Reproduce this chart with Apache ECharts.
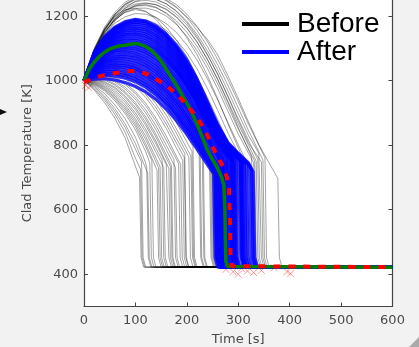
<!DOCTYPE html>
<html>
<head>
<meta charset="utf-8">
<script src="https://cdn.jsdelivr.net/npm/echarts@6/dist/echarts.min.js"></script>
<style>
html,body{margin:0;padding:0;background:#f2f2f2;}
#c{width:419px;height:347px;}
</style>
</head>
<body>
<div id="c"></div>
<script>
// ---- data ----
const timeGrid = [0,20,40,60,80,100,120,140,160,180,200,220,240,260,280,300,320,340,360,380];
const xTicks = [0,100,200,300,400,500,600];
const yTicks = [400,600,800,1000,1200];
const floorTemp = 422;

// "Before" runs: temperature at timeGrid points
const beforeVals = [
 [1000,970,932,884,822,735],
 [1000,974,940,896,840,760],
 [1000,978,946,905,855,788],
 [1000,982,952,914,866,805,728],
 [1000,985,960,925,882,825,745],
 [1000,988,968,938,898,848,780],
 [1000,990,972,944,905,858,795],
 [1000,992,975,948,912,866,805,730],
 [1000,994,979,953,918,874,818,748],
 [1000,996,982,958,925,882,828,760],
 [1000,998,986,964,933,892,840,778],
 [1000,1000,990,970,940,900,850,790],
 [1000,1002,994,976,948,910,862,804,740],
 [1000,1004,997,980,953,917,870,812,745],
 [1000,1006,1002,986,961,926,880,825,760],
 [1000,1008,1005,990,966,932,888,834,770],
 [1000,1010,1009,996,974,942,900,848,786],
 [1000,1012,1012,1000,980,950,910,860,800],
 [1000,1013,1015,1006,988,960,922,874,816,755],
 [1000,1015,1018,1010,993,966,930,884,828,765],
 [1000,1018,1024,1020,1006,982,948,905,852,790],
 [1000,1020,1027,1024,1012,990,958,916,865,806],
 [1000,1022,1030,1028,1018,998,968,928,878,820],
 [1000,1024,1033,1033,1025,1007,979,941,893,836,775],
 [1000,1025,1036,1037,1030,1014,988,952,906,850,790],
 [1000,1028,1040,1043,1037,1023,999,965,922,869,810],
 [1000,1030,1044,1048,1044,1032,1010,978,938,888,830],
 [1000,1032,1047,1052,1049,1038,1018,987,948,899,842,782],
 [1000,1034,1050,1056,1054,1044,1025,996,958,910,855,795],
 [1000,1036,1053,1060,1059,1050,1032,1005,968,921,866,806],
 [1000,1038,1056,1064,1064,1056,1040,1014,978,932,878,818],
 [1000,1040,1060,1069,1070,1063,1047,1022,986,941,887,826,765],
 [1000,1042,1064,1074,1076,1070,1055,1030,995,950,896,835,775],
 [1000,1045,1068,1080,1082,1077,1062,1038,1003,959,905,845,780],
 [1000,1048,1072,1085,1089,1084,1070,1046,1012,968,915,855,790],
 [1000,1052,1080,1096,1102,1099,1086,1064,1032,990,940,880,815],
 [1000,1058,1088,1106,1114,1112,1101,1080,1050,1010,960,900,835,775],
 [1000,1064,1098,1118,1127,1127,1117,1098,1070,1032,984,926,860,795],
 [1000,1070,1108,1132,1143,1145,1137,1120,1094,1058,1012,956,892,824],
 [1000,1075,1118,1145,1158,1162,1156,1140,1116,1082,1038,984,920,852,785],
 [1000,1080,1126,1156,1172,1178,1173,1159,1136,1104,1062,1010,948,880,810],
 [1000,1084,1134,1166,1184,1192,1189,1177,1156,1126,1086,1036,976,908,838,775],
 [1000,1088,1142,1178,1198,1208,1206,1196,1177,1149,1111,1064,1006,940,870,802],
 [1000,1092,1150,1188,1212,1224,1225,1217,1200,1174,1138,1093,1038,975,905,835,775],
 [1000,1088,1148,1190,1218,1234,1240,1236,1222,1198,1164,1120,1066,1003,932,855,785],
 [1000,1093,1153,1193,1218,1231,1233,1226,1210,1185,1150,1106,1052,990,920,850,788],
 [1000,1095,1156,1198,1224,1238,1241,1235,1220,1196,1162,1119,1066,1005,936,866,800],
 [1000,1097,1159,1202,1230,1245,1249,1244,1229,1206,1173,1131,1080,1020,952,882,815],
 [1000,1098,1162,1206,1235,1251,1256,1252,1238,1216,1184,1143,1093,1034,968,898,830,775],
 [1000,1085,1145,1192,1225,1246,1255,1252,1238,1214,1180,1136,1082,1020,950,876,806,760],
 [1000,1092,1156,1204,1236,1254,1262,1260,1248,1226,1195,1155,1106,1049,985,916,845,780],
 [1000,1100,1166,1212,1243,1261,1268,1266,1255,1235,1206,1168,1121,1066,1003,935,865,800],
 [1000,1090,1158,1206,1238,1256,1264,1262,1250,1228,1198,1165,1128,1080,1015,945,872,802,745],
 [1000,1095,1160,1200,1220,1225,1215,1190,1150,1098,1035,962,880,800],
 [1000,1090,1150,1190,1212,1220,1214,1196,1166,1125,1074,1012,942,866,795],
 [1000,1080,1140,1185,1215,1232,1236,1228,1208,1176,1133,1080,1016,944,866,792]
];
// time where each run drops to the floor, and the temperature where the drop starts
const beforeQuench = [108,110,112,124,122,128,132,142,145,148,155,152,162,165,168,170,178,175,184,188,192,195,196,204,208,210,212,224,226,230,232,244,246,248,250,252,262,270,278,290,298,308,318,330,326,332,335,338,342,345,348,352,377,270,292,312];
const beforeKnee = [700,725,748,713,730,745,752,722,730,733,731,754,734,728,734,738,730,755,743,740,753,762,774,763,766,780,795,770,777,776,782,753,757,754,757,776,769,762,763,751,747,750,741,745,764,751,750,755,770,748,754,761,697,760,752,748];

// "After" runs
const afterVals = [
 [1000,1005,1006,1002,994,982,965,942,912,876,834,788,740],
 [1000,1012,1016,1014,1008,997,980,956,925,888,845,798,748],
 [1000,1016,1022,1021,1016,1005,988,964,933,896,853,806,755],
 [1000,1020,1028,1028,1023,1013,996,973,942,905,862,814,763],
 [1000,1024,1034,1036,1032,1022,1006,983,952,915,872,824,772],
 [1000,1028,1040,1043,1040,1031,1015,992,962,925,882,834,782],
 [1000,1031,1045,1049,1046,1038,1022,1000,970,934,891,843,791],
 [1000,1035,1050,1055,1053,1045,1030,1008,979,943,900,852,800,752],
 [1000,1038,1056,1062,1061,1054,1040,1018,990,955,913,866,815,765],
 [1000,1042,1060,1068,1068,1062,1048,1027,998,962,920,872,820,768],
 [1000,1045,1065,1074,1075,1070,1056,1035,1007,971,930,882,830,777],
 [1000,1048,1070,1080,1082,1077,1064,1044,1016,981,940,892,840,786],
 [1000,1050,1075,1088,1090,1085,1072,1052,1025,990,950,903,852,798],
 [1000,1054,1080,1092,1096,1092,1080,1061,1034,1000,959,912,860,805,755],
 [1000,1057,1084,1098,1102,1099,1088,1069,1042,1009,968,922,870,815,763],
 [1000,1060,1088,1103,1108,1106,1095,1077,1051,1018,978,932,880,825,772],
 [1000,1062,1092,1108,1114,1112,1102,1085,1060,1027,987,941,890,835,781],
 [1000,1065,1096,1113,1120,1119,1110,1093,1066,1030,985,930,870,812,768],
 [1000,1068,1100,1118,1126,1126,1117,1099,1072,1036,990,935,875,816,772],
 [1000,1070,1104,1123,1132,1132,1124,1106,1079,1043,997,941,880,820,775],
 [1000,1072,1108,1128,1138,1139,1131,1113,1086,1050,1004,947,885,825,780,755],
 [1000,1074,1111,1133,1143,1145,1138,1120,1093,1057,1011,953,890,828,783,757],
 [1000,1076,1115,1138,1149,1151,1145,1127,1100,1064,1018,959,895,832,786,760],
 [1000,1078,1118,1142,1154,1157,1151,1134,1107,1071,1025,966,900,836,789,762],
 [1000,1080,1122,1147,1160,1163,1158,1141,1114,1078,1031,972,906,840,792,764],
 [1000,1082,1125,1151,1165,1169,1164,1148,1121,1085,1038,978,911,845,795,766],
 [1000,1084,1129,1156,1170,1175,1171,1155,1128,1092,1045,985,917,850,798,768],
 [1000,1086,1132,1160,1175,1181,1177,1161,1135,1099,1052,991,923,855,802,770,740],
 [1000,1087,1134,1163,1179,1186,1182,1166,1140,1104,1058,998,929,860,806,773,742],
 [1000,1088,1136,1166,1183,1190,1185,1170,1145,1110,1065,1005,935,865,808,775,745]
];
const afterQuench = [252,255,256,258,260,262,264,266,268,270,272,275,278,282,284,286,288,290,293,295,302,304,306,305,308,312,316,322,326,329];
const afterKnee = [711,710,714,717,720,725,729,738,745,742,745,746,749,750,753,756,759,748,750,752,750,750,752,758,752,745,740,728,724,718];

// thick green line [time, temperature]
const greenLine = [[0,1000],[10,1035],[20,1058],[30,1075],[40,1088],[50,1098],[60,1104],[70,1108],[80,1110],[90,1113],[100,1115],[110,1112],[120,1106],[130,1095],[140,1080],[150,1060],[160,1035],[170,1010],[180,985],[190,958],[200,930],[210,900],[220,865],[230,825],[240,785],[250,755],[260,728],[268,700],[272,675],[274,600],[275,500],[276,440],[279,424],[600,422]];
// red dashed line
const redLine = [[0,995],[10,1002],[20,1008],[30,1013],[40,1017],[50,1020],[60,1023],[70,1026],[80,1028],[90,1030],[100,1030],[110,1028],[120,1022],[130,1015],[140,1005],[150,995],[160,985],[170,972],[180,958],[190,942],[200,925],[210,905],[220,885],[230,860],[240,830],[250,795],[260,765],[270,735],[278,700],[282,670],[284,560],[285,450],[287,425],[600,422]];
// red x marks
const redMarks = [[3,985],[6,995],[9,978],[28,1008],[45,1022],[62,1035],[80,1020],[92,1042],[105,1035],[118,1020],[135,1012],[150,1000],[165,985],[178,968],[190,945],[198,960],[206,915],[214,900],[222,880],[232,858],[240,840],[248,812],[256,790],[264,760],[272,735],[278,712],[276,415],[290,408],[300,400],[306,418],[318,410],[330,405],[345,412],[370,420],[395,408],[402,402]];

// ---- build ----
function runPoints(vals, q, knee){
  const pts = vals.map((v,i)=>[timeGrid[i], v]);
  pts.push([q, knee]);
  pts.push([q + 3, floorTemp + 30]);
  pts.push([q + 8, floorTemp]);
  pts.push([600, floorTemp]);
  return pts;
}
const series = [];
beforeVals.forEach((v,i)=>{
  series.push({type:'line', name:'Before', data:runPoints(v, beforeQuench[i], beforeKnee[i]), symbol:'none', silent:true,
    itemStyle:{color:'#000'}, lineStyle:{color:'rgba(0,0,0,0.36)', width:1}, emphasis:{disabled:true}});
});
afterVals.forEach((v,i)=>{
  series.push({type:'line', name:'After', data:runPoints(v, afterQuench[i], afterKnee[i]), symbol:'none', silent:true,
    itemStyle:{color:'#0000ff'}, lineStyle:{color:'rgba(0,0,255,0.8)', width:3.2}, emphasis:{disabled:true}});
});
series.push({type:'scatter', name:'marks', data:redMarks, symbol:'path://M0,0L10,10M10,0L0,10', symbolSize:7, silent:true,
  itemStyle:{color:'rgba(0,0,0,0)', borderColor:'rgba(255,40,40,0.6)', borderWidth:1}});
series.push({type:'line', name:'mean', data:greenLine, symbol:'none', silent:true,
  lineStyle:{color:'#008000', width:3.5}, itemStyle:{color:'#008000'}});
series.push({type:'line', name:'red', data:redLine, symbol:'none', silent:true,
  lineStyle:{color:'#ff0000', width:4, type:[7,8]}, itemStyle:{color:'#ff0000'}});

const axisCol = '#444';
const labelFont = {color:'#4a4a4a', fontSize:13, fontFamily:'DejaVu Sans'};
const plain = v => String(v);
const chart = echarts.init(document.getElementById('c'), null, {renderer:'canvas'});
chart.setOption({
  animation:false,
  backgroundColor:'#f2f2f2',
  grid:{left:84, right:26.5, top:0, bottom:40.5, show:true, backgroundColor:'#fff', borderWidth:0, containLabel:false, outerBoundsMode:'none'},
  legend:{
    data:[{name:'Before', itemStyle:{color:'#000', opacity:1}}, {name:'After', itemStyle:{color:'#0000ff', opacity:1}}],
    orient:'vertical', left:237, top:5, itemGap:0, itemWidth:47, itemHeight:4, icon:'rect', selectedMode:false,
    textStyle:{fontSize:28, lineHeight:28, color:'#000', fontFamily:'Liberation Sans, Arial', padding:[0,0,0,3]}
  },
  xAxis:{
    type:'value', min:0, max:600, interval:100,
    name:'Time [s]', nameLocation:'middle', nameGap:27, nameTextStyle:labelFont,
    axisLine:{show:true, onZero:false, lineStyle:{color:axisCol, width:1.2}},
    axisTick:{show:true, inside:true, length:4, lineStyle:{color:axisCol}},
    axisLabel:{...labelFont, margin:8, customValues:xTicks, formatter:plain},
    splitLine:{show:false}
  },
  yAxis:[{
    type:'value', min:300, max:1250, position:'left',
    name:'Clad Temperature [K]', nameLocation:'middle', nameGap:43, nameRotate:90, nameTextStyle:labelFont,
    axisLine:{show:true, onZero:false, lineStyle:{color:axisCol, width:1.2}},
    axisTick:{show:true, inside:true, length:4, lineStyle:{color:axisCol}, customValues:yTicks},
    axisLabel:{...labelFont, margin:6, customValues:yTicks, formatter:plain},
    splitLine:{show:false}
  },{
    type:'value', min:300, max:1250, position:'right',
    axisLine:{show:true, onZero:false, lineStyle:{color:axisCol, width:1.2}},
    axisTick:{show:true, inside:true, length:4, lineStyle:{color:axisCol}, customValues:yTicks},
    axisLabel:{show:false},
    splitLine:{show:false}
  }],
  graphic:[
    {type:'polygon', shape:{points:[[0,109],[7,112],[0,115]]}, style:{fill:'#111'}, silent:true},
    {type:'polygon', shape:{points:[[419,337],[419,347],[409,347]]}, style:{fill:'#aaa'}, silent:true}
  ],
  series: series
});
</script>
</body>
</html>
